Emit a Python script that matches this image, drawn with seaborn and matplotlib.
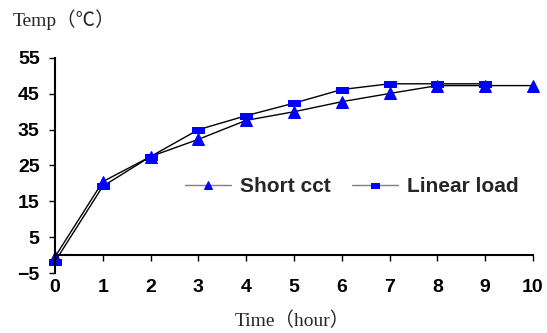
import matplotlib
matplotlib.use("Agg")
import matplotlib.pyplot as plt
import pandas as pd
import seaborn as sns

hours_short = [0, 1, 2, 3, 4, 5, 6, 7, 8, 9, 10]
temp_short = [-0.5, 20.5, 27.5, 32.3, 37.6, 40.0, 42.8, 45.1, 47.3, 47.3, 47.3]
hours_linear = [0, 1, 2, 3, 4, 5, 6, 7, 8, 9]
temp_linear = [-1.8, 19.2, 27.5, 35.0, 38.9, 42.4, 46.2, 47.8, 47.8, 47.8]
x_ticks = list(range(0, 11))
y_ticks = [-5, 5, 15, 25, 35, 45, 55]

# flat rectangle marker, as the squares in the original are wider than tall
RECT = [(-1, -0.6), (1, -0.6), (1, 0.6), (-1, 0.6), (-1, -0.6)]


def main() -> None:
    short_df = pd.DataFrame({"hour": hours_short, "temp": temp_short})
    linear_df = pd.DataFrame({"hour": hours_linear, "temp": temp_linear})

    sns.set_style("ticks")
    plt.rcParams["font.family"] = ["Liberation Sans", "DejaVu Sans"]

    fig = plt.figure(figsize=(5.47, 3.33), dpi=100)
    ax = fig.add_axes([55 / 547, 1 - 273 / 333, 478 / 547, 215 / 333])

    line_kw = dict(color="black", linewidth=1.0, markerfacecolor="blue",
                   markeredgecolor="blue", clip_on=False)
    sns.lineplot(data=short_df, x="hour", y="temp", marker="^", markersize=8,
                 label="Short cct", ax=ax, **line_kw)
    sns.lineplot(data=linear_df, x="hour", y="temp", marker=RECT, markersize=8,
                 label="Linear load", ax=ax, **line_kw)

    ax.set_xlim(0, 10)
    ax.set_ylim(-5, 55)
    ax.set_xticks(x_ticks)
    ax.set_yticks(y_ticks)
    ax.spines["bottom"].set_position(("data", 0))
    ax.spines["top"].set_visible(False)
    ax.spines["right"].set_visible(False)
    for side in ("left", "bottom"):
        ax.spines[side].set_linewidth(1.5)
        ax.spines[side].set_color("black")
    ax.tick_params(axis="x", direction="out", length=4.5, width=1, pad=13,
                   labelsize=14, colors="black")
    ax.tick_params(axis="y", direction="out", length=4, width=1, pad=7,
                   labelsize=14, colors="black")
    for lab in ax.get_xticklabels() + ax.get_yticklabels():
        lab.set_fontweight("bold")

    ax.set_xlabel("")
    ax.set_ylabel("")
    serif = ["Liberation Serif", "Noto Sans CJK SC", "DejaVu Serif"]
    fig.text(13 / 547, 1 - 20 / 333, "Temp（℃）", family=serif, fontsize=14,
             va="center", ha="left")
    fig.text(292 / 547, 1 - 321 / 333, "Time（hour）", family=serif,
             fontsize=14, va="center", ha="center")

    leg = ax.legend(ncol=2, frameon=False, loc="center right",
                    bbox_to_anchor=(529 / 547, 1 - 187 / 333),
                    bbox_transform=fig.transFigure, borderpad=0,
                    prop={"weight": "bold", "size": 15}, markerscale=0.75,
                    handlelength=2.2, handletextpad=0.45, columnspacing=1.0)
    for h in leg.get_lines():
        h.set_color("gray")

    fig.savefig("out.png", dpi=100)
    plt.close(fig)


if __name__ == "__main__":
    main()
